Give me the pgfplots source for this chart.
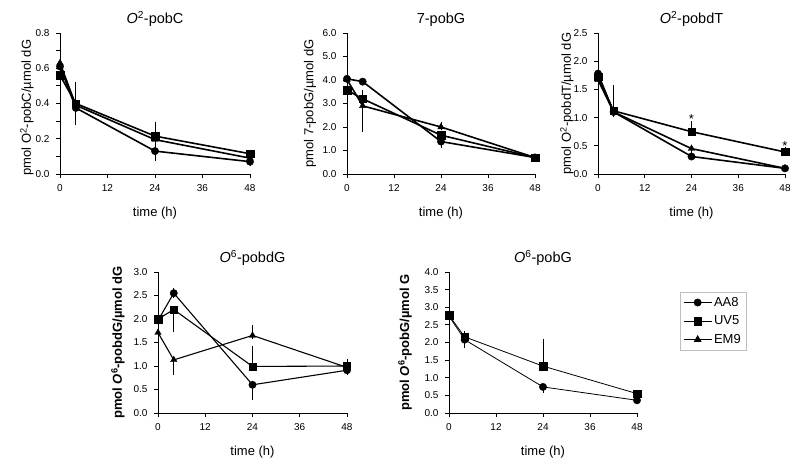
\documentclass[border=0pt]{standalone}
\usepackage{pgfplots}
\pgfplotsset{compat=1.18}
\usepackage{fontspec}
\setmainfont{Liberation Sans}
\begin{document}
\begin{tikzpicture}
\useasboundingbox (0pt,0pt) rectangle (800pt,468pt);
\pgfplotsset{
  panel/.style={
    scale only axis, width=189pt, height=141pt, anchor=south west,
    xmin=0, xmax=48, xtick={0,12,24,36,48}, ymin=0,
    axis x line*=bottom, axis y line*=left,
    axis line style={-, line width=0.8pt, black},
    tick align=outside, major tick length=4pt, minor tick length=4pt,
    every tick/.style={line width=0.8pt, black},
    xticklabel shift=3pt, yticklabel shift=3pt,
    clip=false,
    /pgf/number format/assume math mode=true,
    yticklabel style={/pgf/number format/.cd, fixed, fixed zerofill, precision=1},
    tick label style={font=\fontsize{10}{12}\selectfont},
    label style={font=\fontsize{13}{15}\selectfont},
    title style={font=\fontsize{14.5}{17}\selectfont, yshift=-3pt},
    xlabel={time (h)},
    xlabel style={yshift=-9pt},
  },
  s/.style={black, line width=#1, mark size=3.7pt, mark options={solid, fill=black, line width=0.4pt},
    error bars/y dir=both, error bars/y explicit,
    error bars/error bar style={line width=0.8pt, black},
    error bars/error mark=-, error bars/error mark options={black, mark size=2.2pt, line width=0.8pt}},
  s/.default=1.6pt,
}
% ---------- Panel 1: O2-pobC ----------
\begin{axis}[panel, at={(60pt,294pt)}, width=190pt,
  title={\textit{O}\textsuperscript{2}-pobC},
  ymax=0.8, ytick={0,0.2,0.4,0.6,0.8}, minor y tick num=1,
  ylabel={pmol O\textsuperscript{2}-pobC/µmol dG},
  ylabel style={at={(axis description cs:-0.174,0.47)}, anchor=center}]
\addplot[s, mark=*] coordinates {(0,0.61) += (0,0.05) -= (0,0.09) (4,0.375) += (0,0.02) -= (0,0.085) (24,0.13) += (0,0.02) -= (0,0.045) (48,0.07) += (0,0.01) -= (0,0.01)};
\addplot[s, mark=square*] coordinates {(0,0.56) += (0,0.03) -= (0,0.08) (4,0.40) += (0,0.11) -= (0,0.02) (24,0.215) += (0,0.07) -= (0,0.02) (48,0.115) += (0,0.01) -= (0,0.01)};
\addplot[s, mark=triangle*] coordinates {(0,0.63) += (0,0.07) -= (0,0.02) (4,0.39) += (0,0.02) -= (0,0.07) (24,0.195) += (0,0.02) -= (0,0.02) (48,0.09) += (0,0.01) -= (0,0.01)};
\end{axis}
% ---------- Panel 2: 7-pobG ----------
\begin{axis}[panel, at={(347pt,294pt)}, width=188pt,
  title={7-pobG},
  ymax=6, ytick={0,1,2,3,4,5,6},
  ylabel={pmol 7-pobG/µmol dG},
  ylabel style={at={(axis description cs:-0.197,0.5)}, anchor=center}]
\addplot[s, mark=*] coordinates {(0,4.05) += (0,0.05) -= (0,0.05) (4,3.93) += (0,0.05) -= (0,0.05) (24,1.38) += (0,0.05) -= (0,0.18) (48,0.7) += (0,0.03) -= (0,0.03)};
\addplot[s, mark=square*] coordinates {(0,3.57) += (0,0.05) -= (0,0.27) (4,3.2) += (0,0.3) -= (0,0.05) (24,1.65) += (0,0.1) -= (0,0.1) (48,0.7) += (0,0.03) -= (0,0.03)};
\addplot[s, mark=triangle*] coordinates {(0,4.02) += (0,0.05) -= (0,0.05) (4,2.9) += (0,0.05) -= (0,1.0) (24,2.0) += (0,0.1) -= (0,0.05) (48,0.7) += (0,0.03) -= (0,0.03)};
\end{axis}
% ---------- Panel 3: O2-pobdT ----------
\begin{axis}[panel, at={(598pt,294pt)}, width=187pt,
  title={\textit{O}\textsuperscript{2}-pobdT},
  ymax=2.5, ytick={0,0.5,1,1.5,2,2.5},
  ylabel={pmol O\textsuperscript{2}-pobdT/µmol dG},
  ylabel style={at={(axis description cs:-0.166,0.5)}, anchor=center}]
\addplot[s, mark=*] coordinates {(0,1.78) += (0,0.15) -= (0,0.1) (4,1.1) += (0,0.18) -= (0,0.03) (24,0.31) += (0,0.03) -= (0,0.03) (48,0.1) += (0,0.02) -= (0,0.02)};
\addplot[s, mark=square*] coordinates {(0,1.72) += (0,0.1) -= (0,0.1) (4,1.12) += (0,0.42) -= (0,0.03) (24,0.75) += (0,0.15) -= (0,0.03) (48,0.39) += (0,0.05) -= (0,0.02)};
\addplot[s, mark=triangle*] coordinates {(0,1.67) += (0,0.05) -= (0,0.22) (4,1.1) += (0,0.03) -= (0,0.05) (24,0.45) += (0,0.03) -= (0,0.03) (48,0.1) += (0,0.02) -= (0,0.02)};
\node[font=\fontsize{13}{15}\selectfont] at (axis cs:24,0.98) {*};
\node[font=\fontsize{13}{15}\selectfont] at (axis cs:48,0.5) {*};
\end{axis}
% ---------- Panel 4: O6-pobdG ----------
\begin{axis}[panel, at={(158pt,55pt)}, width=189pt,
  title={\textit{O}\textsuperscript{6}-pobdG},
  ymax=3, ytick={0,0.5,1,1.5,2,2.5,3},
  ylabel={\bfseries pmol \textit{O}\textsuperscript{6}-pobdG/µmol dG},
  ylabel style={at={(axis description cs:-0.212,0.5)}, anchor=center}]
\addplot[s=1.1pt, mark=*] coordinates {(0,1.97) += (0,0.62) -= (0,0.02) (4,2.55) += (0,0.07) -= (0,0.05) (24,0.6) += (0,0.02) -= (0,0.28) (48,0.91) += (0,0.05) -= (0,0.05)};
\addplot[s=1.1pt, mark=square*] coordinates {(0,2.0) += (0,0.77) -= (0,0.02) (4,2.2) += (0,0.03) -= (0,0.43) (24,0.99) += (0,0.38) -= (0,0.02) (48,1.0) += (0,0.1) -= (0,0.02)};
\addplot[s=1.1pt, mark=triangle*] coordinates {(0,1.71) += (0,0.02) -= (0,0.29) (4,1.13) += (0,0.02) -= (0,0.27) (24,1.65) += (0,0.17) -= (0,0.02) (48,0.97) += (0,0.05) -= (0,0.05)};
\end{axis}
% ---------- Panel 5: O6-pobG ----------
\begin{axis}[panel, at={(449pt,55pt)}, width=188pt,
  title={\textit{O}\textsuperscript{6}-pobG},
  ymax=4, ytick={0,0.5,1,1.5,2,2.5,3,3.5,4},
  ylabel={\bfseries pmol \textit{O}\textsuperscript{6}-pobG/µmol G},
  ylabel style={at={(axis description cs:-0.234,0.5)}, anchor=center},
  legend style={at={(rel axis cs:1.229,0.858)}, anchor=north west, draw=black!25,
    font=\fontsize{13}{15}\selectfont, inner sep=3pt, row sep=4pt},
  legend cell align=left,
  legend image code/.code={\draw[mark repeat=2,mark phase=2,#1] plot coordinates {(0pt,0pt) (14pt,0pt) (28pt,0pt)};}]
\addplot[s=0.8pt, mark=*] coordinates {(0,2.75) += (0,0.02) -= (0,0.63) (4,2.08) += (0,0.02) -= (0,0.18) (24,0.74) += (0,0.02) -= (0,0.11) (48,0.36) += (0,0.03) -= (0,0.03)};
\addlegendentry{AA8}
\addplot[s=0.8pt, mark=square*] coordinates {(0,2.77) += (0,1.0) -= (0,0.02) (4,2.16) += (0,0.1) -= (0,0.02) (24,1.33) += (0,0.7) -= (0,0.02) (48,0.55) += (0,0.03) -= (0,0.03)};
\addlegendentry{UV5}
\addlegendimage{black, line width=0.8pt, mark=triangle*, mark size=3.7pt, mark options={solid, fill=black}}
\addlegendentry{EM9}
\end{axis}
\end{tikzpicture}
\end{document}
